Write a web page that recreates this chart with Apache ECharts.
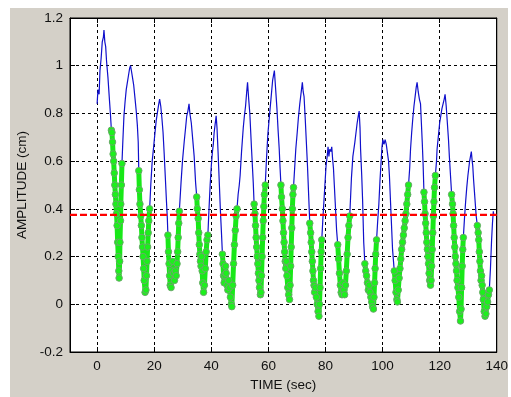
<!DOCTYPE html>
<html><head><meta charset="utf-8">
<script src="https://cdn.jsdelivr.net/npm/echarts@6/dist/echarts.min.js"></script>
<style>
html,body{margin:0;padding:0;background:#fff;overflow:hidden;}
#frame{position:absolute;left:10px;top:8px;width:498px;height:389px;background:#d4d0c8;}
#chart{position:absolute;left:0;top:0;width:511px;height:397px;}
</style></head><body>
<div id="frame"></div><div id="chart"></div>
<script>
// ---- data ----
const time = [
 0.0,0.3,0.7,1.0,1.4,1.8,2.2,2.4,2.7,3.0,3.3,3.8,4.3,4.7,
 5.0,5.2,5.4,5.6,5.8,6.0,6.2,6.4,6.6,6.8,7.0,7.2,7.4,7.6,7.7,7.9,8.0,8.2,8.3,8.5,8.7,
 9.0,9.4,9.8,10.2,10.6,11.0,11.4,11.7,12.0,12.4,12.8,13.3,13.7,14.1,14.4,
 14.6,14.8,15.0,15.3,15.5,15.7,15.9,16.1,16.3,16.5,16.8,17.1,17.3,17.5,17.7,17.9,18.1,18.4,
 18.8,19.3,19.8,20.2,20.7,21.2,21.6,21.9,22.3,22.7,23.1,23.5,23.9,24.3,24.6,
 24.8,25.0,25.2,25.4,25.6,25.9,26.2,26.5,26.8,27.1,27.4,27.7,28.0,28.2,28.4,28.6,28.8,
 29.1,29.4,29.9,30.5,31.0,31.4,31.8,32.2,32.5,33.0,33.5,34.0,34.5,
 34.9,35.1,35.4,35.6,35.8,36.0,36.2,36.4,36.6,36.8,37.0,37.3,37.6,37.9,38.2,38.5,38.8,
 39.2,39.6,40.0,40.4,40.7,41.0,41.3,41.7,42.0,42.4,42.8,43.2,43.6,
 43.9,44.1,44.3,44.5,44.8,45.0,45.2,45.5,45.8,46.1,46.4,46.7,47.0,47.2,47.5,47.8,48.1,48.4,48.7,49.0,
 49.4,49.8,50.1,50.6,51.2,51.6,52.0,52.4,52.7,53.1,53.5,54.1,54.7,
 55.0,55.3,55.5,55.7,55.9,56.1,56.3,56.5,56.7,56.9,57.2,57.4,57.6,57.8,58.0,58.2,58.4,58.6,58.9,
 59.3,59.8,60.3,60.9,61.5,62.1,62.5,63.0,63.4,63.8,64.1,
 64.4,64.6,64.9,65.1,65.3,65.5,65.7,65.9,66.1,66.3,66.5,66.8,67.1,67.4,67.6,67.8,68.0,68.2,68.4,68.6,68.8,
 69.2,69.6,70.1,70.5,71.0,71.4,71.9,72.2,72.5,72.9,73.3,73.7,74.1,
 74.5,74.8,75.0,75.2,75.4,75.6,75.8,76.0,76.2,76.5,76.8,77.1,77.4,77.7,77.9,78.1,78.3,78.5,78.7,
 79.1,79.5,79.9,80.2,80.6,80.9,81.2,81.5,81.9,82.2,82.5,82.8,83.1,83.4,83.9,
 84.3,84.6,84.9,85.2,85.5,85.8,86.1,86.4,86.7,87.0,87.3,87.6,87.9,88.2,88.5,
 88.8,89.1,89.6,90.3,90.7,91.1,91.5,91.8,92.1,92.3,92.7,93.0,93.4,
 93.8,94.1,94.4,94.7,95.0,95.3,95.6,95.9,96.2,96.5,96.8,97.0,97.2,97.4,97.6,97.9,
 98.3,98.7,99.1,99.5,99.8,100.1,100.5,100.9,101.3,101.8,102.1,102.4,103.0,103.5,
 104.1,104.4,104.7,105.0,105.2,105.5,105.8,106.1,106.4,106.7,107.0,107.3,107.6,107.9,108.2,108.5,108.8,109.1,
 109.5,109.8,110.2,110.6,111.0,111.5,111.8,112.1,112.5,112.9,113.3,113.6,113.9,114.2,
 114.5,114.7,114.9,115.1,115.3,115.5,115.7,115.9,116.1,116.3,116.5,116.8,117.0,117.2,117.4,117.6,117.8,118.0,118.2,118.5,
 118.9,119.1,119.6,120.0,120.4,120.8,121.2,121.6,121.9,122.3,122.7,123.1,123.4,123.8,
 124.2,124.5,124.7,124.9,125.1,125.3,125.5,125.7,125.9,126.1,126.4,126.7,127.0,127.3,127.5,127.7,127.9,128.1,128.3,
 128.7,129.1,129.5,129.9,130.2,130.5,130.8,131.1,131.4,131.6,131.9,132.2,132.5,132.8,
 133.2,133.5,133.7,133.9,134.1,134.3,134.5,134.7,134.9,135.1,135.3,135.6,135.9,136.2,136.5,136.8,137.1,137.4,
 137.8,138.2,138.5,138.8,139.0
];
const amplitude = [
 0.84,0.90,0.88,0.98,1.03,1.10,1.12,1.15,1.10,1.08,1.02,0.95,0.86,0.79,
 0.73,0.72,0.68,0.63,0.60,0.55,0.50,0.46,0.42,0.38,0.33,0.26,0.20,0.14,0.11,0.18,0.26,0.35,0.42,0.50,0.59,
 0.68,0.79,0.85,0.90,0.93,0.96,0.99,1.00,0.98,0.95,0.92,0.86,0.81,0.75,0.68,
 0.56,0.48,0.42,0.37,0.33,0.28,0.24,0.20,0.15,0.10,0.05,0.06,0.12,0.18,0.24,0.30,0.35,0.40,
 0.50,0.60,0.66,0.71,0.77,0.81,0.84,0.86,0.83,0.78,0.72,0.63,0.53,0.43,0.36,
 0.29,0.22,0.17,0.12,0.08,0.07,0.14,0.18,0.13,0.10,0.14,0.12,0.17,0.22,0.28,0.34,0.39,
 0.45,0.51,0.60,0.68,0.74,0.79,0.81,0.84,0.80,0.76,0.69,0.62,0.51,
 0.45,0.40,0.36,0.30,0.25,0.21,0.18,0.16,0.20,0.14,0.09,0.05,0.08,0.15,0.22,0.27,0.29,
 0.40,0.50,0.58,0.64,0.67,0.72,0.75,0.79,0.74,0.63,0.51,0.39,0.29,
 0.21,0.17,0.12,0.09,0.12,0.16,0.13,0.08,0.06,0.10,0.07,0.03,0.00,-0.01,0.08,0.17,0.25,0.31,0.37,0.40,
 0.46,0.50,0.54,0.64,0.74,0.79,0.83,0.89,0.93,0.86,0.80,0.65,0.51,
 0.42,0.38,0.33,0.28,0.24,0.20,0.17,0.13,0.10,0.07,0.04,0.05,0.12,0.20,0.28,0.35,0.41,0.46,0.50,
 0.60,0.71,0.78,0.86,0.94,0.98,0.91,0.82,0.73,0.65,0.57,
 0.50,0.45,0.40,0.35,0.30,0.26,0.22,0.18,0.15,0.18,0.12,0.07,0.04,0.02,0.08,0.16,0.24,0.32,0.40,0.46,0.49,
 0.57,0.65,0.72,0.78,0.84,0.88,0.93,0.89,0.87,0.78,0.68,0.58,0.46,
 0.34,0.30,0.26,0.22,0.18,0.14,0.10,0.08,0.05,0.07,0.03,0.00,-0.03,-0.05,0.00,0.07,0.15,0.22,0.27,
 0.36,0.44,0.52,0.58,0.62,0.66,0.62,0.65,0.64,0.66,0.61,0.57,0.50,0.43,0.31,
 0.25,0.19,0.13,0.08,0.05,0.04,0.09,0.06,0.04,0.08,0.14,0.21,0.28,0.33,0.37,
 0.45,0.53,0.62,0.68,0.72,0.76,0.79,0.81,0.74,0.65,0.54,0.44,0.26,
 0.17,0.14,0.12,0.09,0.06,0.08,0.05,0.03,0.01,-0.01,-0.02,0.03,0.09,0.15,0.21,0.27,
 0.35,0.42,0.52,0.60,0.66,0.69,0.67,0.69,0.67,0.675,0.60,0.54,0.37,0.23,
 0.14,0.10,0.05,0.02,0.01,0.06,0.11,0.15,0.19,0.23,0.26,0.29,0.32,0.35,0.38,0.42,0.46,0.50,
 0.57,0.65,0.72,0.78,0.83,0.88,0.91,0.93,0.89,0.86,0.84,0.76,0.68,0.59,
 0.47,0.43,0.38,0.34,0.30,0.26,0.23,0.20,0.17,0.13,0.10,0.08,0.10,0.16,0.23,0.30,0.37,0.43,0.49,0.54,
 0.60,0.65,0.71,0.76,0.79,0.82,0.84,0.86,0.88,0.83,0.76,0.69,0.62,0.54,
 0.46,0.42,0.38,0.33,0.28,0.24,0.20,0.17,0.14,0.10,0.07,0.03,-0.03,-0.07,-0.02,0.07,0.16,0.23,0.28,
 0.36,0.43,0.49,0.54,0.57,0.60,0.62,0.64,0.60,0.58,0.52,0.47,0.42,0.37,
 0.33,0.30,0.27,0.22,0.18,0.14,0.10,0.12,0.08,0.05,0.02,-0.03,-0.05,-0.04,-0.01,0.01,0.04,0.06,
 0.15,0.27,0.34,0.39,0.37
];
// 1 = sample drawn with a green circle marker
const marked = [
 0,0,0,0,0,0,0,0,0,0,0,0,0,0,
 1,1,1,1,1,1,1,1,1,1,1,1,1,1,1,1,1,1,1,1,1,
 0,0,0,0,0,0,0,0,0,0,0,0,0,0,0,
 1,1,1,1,1,1,1,1,1,1,1,1,1,1,1,1,1,1,
 0,0,0,0,0,0,0,0,0,0,0,0,0,0,0,
 1,1,1,1,1,1,1,1,1,1,1,1,1,1,1,1,1,
 0,0,0,0,0,0,0,0,0,0,0,0,0,
 1,1,1,1,1,1,1,1,1,1,1,1,1,1,1,1,1,
 0,0,0,0,0,0,0,0,0,0,0,0,0,
 1,1,1,1,1,1,1,1,1,1,1,1,1,1,1,1,1,1,1,1,
 0,0,0,0,0,0,0,0,0,0,0,0,0,
 1,1,1,1,1,1,1,1,1,1,1,1,1,1,1,1,1,1,1,
 0,0,0,0,0,0,0,0,0,0,0,
 1,1,1,1,1,1,1,1,1,1,1,1,1,1,1,1,1,1,1,1,1,
 0,0,0,0,0,0,0,0,0,0,0,0,0,
 1,1,1,1,1,1,1,1,1,1,1,1,1,1,1,1,1,1,1,
 0,0,0,0,0,0,0,0,0,0,0,0,0,0,0,
 1,1,1,1,1,1,1,1,1,1,1,1,1,1,1,
 0,0,0,0,0,0,0,0,0,0,0,0,0,
 1,1,1,1,1,1,1,1,1,1,1,1,1,1,1,1,
 0,0,0,0,0,0,0,0,0,0,0,0,0,0,
 1,1,1,1,1,1,1,1,1,1,1,1,1,1,1,1,1,1,
 0,0,0,0,0,0,0,0,0,0,0,0,0,0,
 1,1,1,1,1,1,1,1,1,1,1,1,1,1,1,1,1,1,1,1,
 0,0,0,0,0,0,0,0,0,0,0,0,0,0,
 1,1,1,1,1,1,1,1,1,1,1,1,1,1,1,1,1,1,1,
 0,0,0,0,0,0,0,0,0,0,0,0,0,0,
 1,1,1,1,1,1,1,1,1,1,1,1,1,1,1,1,1,1,
 0,0,0,0,0
];
const threshold = 0.375;
const xMin = -9.5, xMax = 140;
const xTicks = [0, 20, 40, 60, 80, 100, 120, 140];
const yMin = -0.2, yMax = 1.2, yStep = 0.2;
const xTitle = 'TIME (sec)';
const yTitle = 'AMPLITUDE (cm)';

// ---- chart ----
const FONT = '"Liberation Sans", Arial, sans-serif';
const TXT = '#111';
const n = Math.min(time.length, amplitude.length, marked.length);
const lineData = [], markData = [];
for (let i = 0; i < n; i++) {
  lineData.push([time[i], amplitude[i]]);
  markData.push(marked[i] ? [time[i], amplitude[i]] : [time[i], '-']);
}
const chart = echarts.init(document.getElementById('chart'), null, {renderer: 'canvas'});
const gridDash = {color: '#000', width: 1, type: [3, 3]};
chart.setOption({
  animation: false,
  backgroundColor: 'transparent',
  grid: {left: 70, top: 18, right: 5, bottom: 45, show: true, backgroundColor: '#fff', borderColor: '#000', borderWidth: 1},
  xAxis: [{
    type: 'value', min: xMin, max: xMax, position: 'bottom',
    name: xTitle, nameLocation: 'middle', nameGap: 23,
    nameTextStyle: {fontFamily: FONT, fontSize: 13.5, color: TXT},
    axisLine: {show: true, onZero: false, lineStyle: {color: '#000'}},
    axisTick: {show: true, inside: true, length: 5, customValues: xTicks, lineStyle: {color: '#000'}},
    axisLabel: {customValues: xTicks, margin: 7, fontFamily: FONT, fontSize: 13.5, color: TXT},
    splitLine: {show: true, lineStyle: gridDash}
  }, {
    type: 'value', min: xMin, max: xMax, position: 'top',
    axisLine: {show: true, onZero: false, lineStyle: {color: '#000'}},
    axisTick: {show: true, inside: true, length: 5, customValues: xTicks, lineStyle: {color: '#000'}},
    axisLabel: {show: false, customValues: xTicks},
    splitLine: {show: false}
  }],
  yAxis: [{
    type: 'value', min: yMin, max: yMax, interval: yStep, position: 'left',
    name: yTitle, nameLocation: 'middle', nameGap: 34,
    nameTextStyle: {fontFamily: FONT, fontSize: 13.5, color: TXT},
    axisLine: {show: true, onZero: false, lineStyle: {color: '#000'}},
    axisTick: {show: true, inside: true, length: 5, lineStyle: {color: '#000'}},
    axisLabel: {margin: 7, fontFamily: FONT, fontSize: 13.5, color: TXT},
    splitLine: {show: true, lineStyle: gridDash}
  }, {
    type: 'value', min: yMin, max: yMax, interval: yStep, position: 'right',
    axisLine: {show: true, onZero: false, lineStyle: {color: '#000'}},
    axisTick: {show: true, inside: true, length: 5, lineStyle: {color: '#000'}},
    axisLabel: {show: false},
    splitLine: {show: false}
  }],
  series: [{
    type: 'line', name: 'signal', data: lineData, showSymbol: false,
    lineStyle: {color: '#1010cc', width: 1.2}, z: 2
  }, {
    type: 'line', name: 'marked', data: markData, connectNulls: false,
    showSymbol: true, showAllSymbol: true, symbol: 'circle', symbolSize: 6.5,
    lineStyle: {color: '#18e818', width: 5},
    itemStyle: {color: '#1cf01c', borderColor: '#6aa86a', borderWidth: 1},
    z: 3
  }, {
    type: 'line', name: 'threshold', data: [[xMin, threshold], [xMax, threshold]],
    showSymbol: false, lineStyle: {color: '#ff0000', width: 2.2, type: [7, 3]}, z: 4
  }]
});
</script></body></html>
